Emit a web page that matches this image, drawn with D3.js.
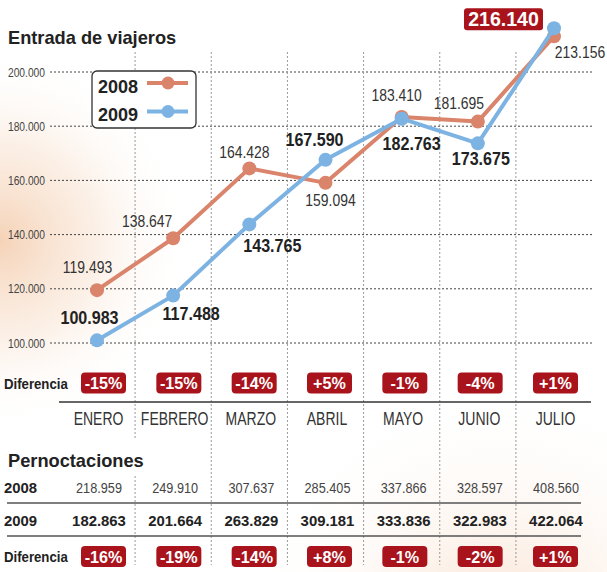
<!DOCTYPE html>
<html><head><meta charset="utf-8">
<script src="https://cdn.jsdelivr.net/npm/d3@7"></script>
<style>
html,body{margin:0;padding:0;background:#fff;}
svg{display:block;}
</style></head>
<body>
<svg id="c" width="607" height="572"></svg>
<script>
// ---------- data ----------
const months = ["ENERO","FEBRERO","MARZO","ABRIL","MAYO","JUNIO","JULIO"];
const viajeros2008 = [119493,138647,164428,159094,183410,181695,213156];
const viajeros2009 = [100983,117488,143765,167590,182763,173675,216140];
const difViajeros = ["-15%","-15%","-14%","+5%","-1%","-4%","+1%"];
const pernoct2008 = [218959,249910,307637,285405,337866,328597,408560];
const pernoct2009 = [182863,201664,263829,309181,333836,322983,422064];
const difPernoct = ["-16%","-19%","-14%","+8%","-1%","-2%","+1%"];
const yTicks = [100000,120000,140000,160000,180000,200000];
const seriesNames = ["2008","2009"];

// ---------- layout (label placement relative to points) ----------
const off08 = [[-9.5,-17],[-26,-11],[-5,-10],[5,23],[-5,-16],[-19,-13],[26,22]];
const off09 = [[-7.5,-16],[18,24],[23,28],[-11,-14],[10,31],[3,22],[-50.5,-9]];

const C08 = "#d9846b", C09 = "#7db3e2", RED = "#a9141c";
const FONT = "'Liberation Sans',Arial,sans-serif";

const loc = d3.formatLocale({decimal:",", thousands:".", grouping:[3], currency:["","€"]});
const fmt = loc.format(",d");

const svg = d3.select("#c");

// text helper: horizontally condensed real text
function txt(parent, x, y, s, o){
  o = o || {};
  return parent.append("text")
    .attr("transform",`translate(${x},${y}) scale(${o.sx||1},1)`)
    .attr("x",0).attr("y",0)
    .attr("text-anchor",o.anchor||"start")
    .attr("font-family",FONT)
    .attr("font-weight",o.bold?"bold":"normal")
    .attr("font-size",o.size||12)
    .attr("fill",o.fill||"#222")
    .text(s);
}

const defs = svg.append("defs");
const g1 = defs.append("radialGradient").attr("id","bgL").attr("cx",0).attr("cy",240).attr("r",190)
  .attr("gradientUnits","userSpaceOnUse");
g1.append("stop").attr("offset",0).attr("stop-color","#f2c4a0").attr("stop-opacity",0.75);
g1.append("stop").attr("offset",0.5).attr("stop-color","#f7dcc6").attr("stop-opacity",0.45);
g1.append("stop").attr("offset",1).attr("stop-color","#ffffff").attr("stop-opacity",0);
const g2 = defs.append("radialGradient").attr("id","bgB").attr("cx",500).attr("cy",640).attr("r",260)
  .attr("gradientUnits","userSpaceOnUse");
g2.append("stop").attr("offset",0).attr("stop-color","#f4c9a8").attr("stop-opacity",0.6);
g2.append("stop").attr("offset",1).attr("stop-color","#ffffff").attr("stop-opacity",0);
svg.append("rect").attr("width",607).attr("height",572).attr("fill","#fff");
svg.append("rect").attr("width",607).attr("height",572).attr("fill","url(#bgL)");
svg.append("rect").attr("width",607).attr("height",572).attr("fill","url(#bgB)");

// ---------- scales ----------
const x = d3.scalePoint().domain(months).range([97, 554]);
const xb = d3.scalePoint().domain(months).range([103.5, 555.5]);
const step = x.step();
const y = d3.scaleLinear().domain([100000, 200000]).range([343, 72]);

// title
txt(svg, 8, 44, "Entrada de viajeros", {bold:true, size:19, sx:0.96});

// horizontal grid + y ticks
const yAxis = svg.append("g");
yTicks.forEach(t=>{
  yAxis.append("line").attr("x1",50).attr("x2",593).attr("y1",y(t)).attr("y2",y(t))
    .attr("stroke","#444").attr("stroke-width",1).attr("stroke-dasharray","2,2");
  txt(yAxis, 45, y(t)+4.5, fmt(t), {anchor:"end", size:12.5, sx:0.82, fill:"#444"});
});

// vertical dividers
months.slice(1).forEach((m,i)=>{
  const xx = x(m) - step/2;
  const segs = i===0 ? [[52,440],[476,565]] : [[52,565]];
  segs.forEach(s=>{
    svg.append("line").attr("x1",xx).attr("x2",xx).attr("y1",s[0]).attr("y2",s[1])
      .attr("stroke","#999").attr("stroke-width",1).attr("stroke-dasharray","2,2");
  });
});

// lines
const line = d3.line().x((d,i)=>x(months[i])).y(d=>y(d));
[[viajeros2008,C08],[viajeros2009,C09]].forEach(([vals,col])=>{
  svg.append("path").attr("d",line(vals)).attr("fill","none").attr("stroke",col)
    .attr("stroke-width",4).attr("stroke-linejoin","round");
  svg.selectAll(null).data(vals).enter().append("circle")
    .attr("cx",(d,i)=>x(months[i])).attr("cy",d=>y(d)).attr("r",7).attr("fill",col);
});

// value labels 2008
viajeros2008.forEach((v,i)=>{
  txt(svg, x(months[i])+off08[i][0], y(v)+off08[i][1], fmt(v),
    {anchor:"middle", size:17, sx:0.82, fill:"#333"});
});
// value labels 2009
viajeros2009.forEach((v,i)=>{
  const cx = x(months[i])+off09[i][0], cy = y(v)+off09[i][1];
  if(i===months.length-1){
    svg.append("rect").attr("x",cx-39.5).attr("y",cy-11).attr("width",79).attr("height",22)
      .attr("rx",3).attr("fill",RED);
    txt(svg, cx, cy+7, fmt(v), {anchor:"middle", bold:true, size:19.5, fill:"#fff"});
  } else {
    txt(svg, cx, cy, fmt(v), {anchor:"middle", bold:true, size:17.5, sx:0.92, fill:"#222"});
  }
});

// legend
const lg = svg.append("g");
lg.append("rect").attr("x",92).attr("y",71).attr("width",104).attr("height",57).attr("rx",5)
  .attr("fill","#fff").attr("stroke","#333").attr("stroke-width",1.3);
seriesNames.forEach((s,i)=>{
  const col = i===0?C08:C09, ly = 83 + i*28.5;
  txt(lg, 98, ly+9.5, s, {bold:true, size:19, sx:0.95});
  lg.append("line").attr("x1",147).attr("x2",188).attr("y1",ly).attr("y2",ly)
    .attr("stroke",col).attr("stroke-width",4);
  lg.append("circle").attr("cx",168).attr("cy",ly).attr("r",6.5).attr("fill",col);
});

// badge helper
function badges(vals, cy){
  vals.forEach((t,i)=>{
    const cx = xb(months[i]);
    svg.append("rect").attr("x",cx-22.5).attr("y",cy-10.5).attr("width",45).attr("height",21)
      .attr("rx",4).attr("fill",RED);
    txt(svg, cx, cy+6.2, t, {anchor:"middle", bold:true, size:17, sx:0.95, fill:"#fff"});
  });
}
function diffLabel(yb){
  txt(svg, 4, yb, "Diferencia", {bold:true, size:15, sx:0.88});
}

// chart diferencia row
diffLabel(388.5);
badges(difViajeros, 383);
svg.append("line").attr("x1",59).attr("x2",591).attr("y1",402).attr("y2",402)
  .attr("stroke","#333").attr("stroke-width",1.5);

// month axis labels
months.forEach(m=>{
  txt(svg, x(m)+1.5, 425, m, {anchor:"middle", size:17.5, sx:0.8, fill:"#333"});
});

// Pernoctaciones table
txt(svg, 8, 467, "Pernoctaciones", {bold:true, size:19, sx:0.96});

txt(svg, 4, 493, seriesNames[0], {bold:true, size:15.5, sx:0.96});
pernoct2008.forEach((v,i)=>{
  txt(svg, x(months[i])+2, 493, fmt(v), {anchor:"middle", size:15.5, sx:0.82, fill:"#444"});
});
svg.append("line").attr("x1",7).attr("x2",581).attr("y1",503).attr("y2",503)
  .attr("stroke","#555").attr("stroke-width",1.3);

txt(svg, 4, 526, seriesNames[1], {bold:true, size:15.5, sx:0.96});
pernoct2009.forEach((v,i)=>{
  txt(svg, x(months[i])+2, 526, fmt(v), {anchor:"middle", bold:true, size:15.5, sx:0.96});
});
svg.append("line").attr("x1",7).attr("x2",581).attr("y1",536).attr("y2",536)
  .attr("stroke","#555").attr("stroke-width",1.3);

diffLabel(562);
badges(difPernoct, 556.5);
</script>
</body></html>
